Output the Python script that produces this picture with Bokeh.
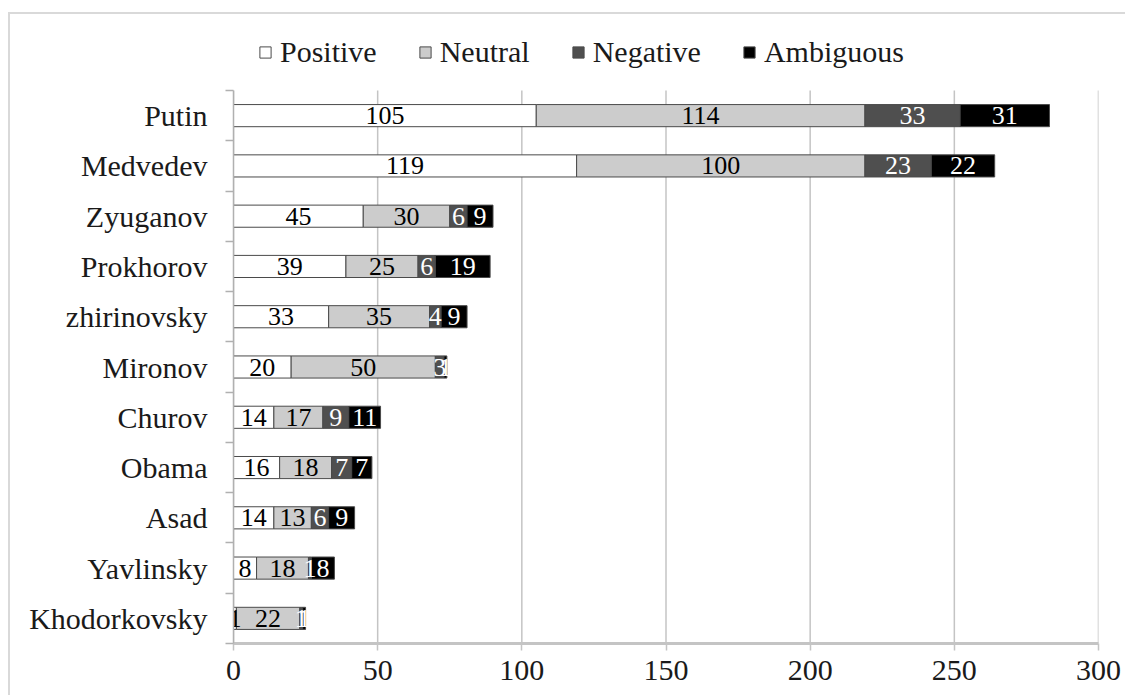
from bokeh.plotting import figure
from bokeh.models import (ColumnDataSource, Range1d, FixedTicker, Legend, LegendItem)
from bokeh.core.properties import value
from bokeh.embed import file_html
from bokeh.resources import INLINE

# ---- data (top to bottom as drawn) ----
names = ["Putin", "Medvedev", "Zyuganov", "Prokhorov", "zhirinovsky", "Mironov",
         "Churov", "Obama", "Asad", "Yavlinsky", "Khodorkovsky"]
positive = [105, 119, 45, 39, 33, 20, 14, 16, 14, 8, 1]
neutral = [114, 100, 30, 25, 35, 50, 17, 18, 13, 18, 22]
negative = [33, 23, 6, 6, 4, 3, 9, 7, 6, 1, 1]
ambiguous = [31, 22, 9, 19, 9, 1, 11, 7, 9, 8, 1]
series = ["Positive", "Neutral", "Negative", "Ambiguous"]
x_ticks = [0, 50, 100, 150, 200, 250, 300]

colors = ["#ffffff", "#cccccc", "#4f4f4f", "#000000"]
label_colors = ["#000000", "#000000", "#ffffff", "#ffffff"]
SERIF = "Liberation Serif"

n = len(names)
ypos = [n - i - 0.5 for i in range(n)]
data = {"y": ypos, "Positive": positive, "Neutral": neutral,
        "Negative": negative, "Ambiguous": ambiguous}
source = ColumnDataSource(data)

# layout in pixels: bar area is 553 px tall, with 66 px of room above it for the legend
BAR_AREA_PX = 553
LEGEND_ROOM_PX = 66
y_top = n + LEGEND_ROOM_PX / (BAR_AREA_PX / n)

p = figure(width=1117, height=683,
           x_range=Range1d(0, 300), y_range=Range1d(0, y_top),
           output_backend="svg", toolbar_location=None,
           min_border_left=223, min_border_top=10, min_border_bottom=54,
           min_border_right=29)
p.margin = (12, 0, 0, 8)
p.styles = {"border-top": "2px solid #d9d9d9", "border-left": "2px solid #d9d9d9"}
p.outline_line_color = None
p.background_fill_color = "white"
p.border_fill_color = "white"

# vertical grid lines limited to the bar area
p.xgrid.grid_line_color = None
p.ygrid.grid_line_color = None
p.segment(x0=x_ticks, y0=[0] * len(x_ticks), x1=x_ticks, y1=[n] * len(x_ticks),
          line_color="#c4c4c4", line_width=1.5)

renderers = p.hbar_stack(series, y="y", height=0.44, source=source,
                         fill_color=colors, line_color="#4a4a4a", line_width=1)

# value labels
lx, ly, lt, lc = [], [], [], []
vals = [positive, neutral, negative, ambiguous]
for i in range(n):
    left = 0
    for k, s in enumerate(vals):
        v = s[i]
        lx.append(left + v / 2)
        ly.append(ypos[i])
        lt.append(str(v))
        lc.append(label_colors[k])
        left += v
lab_src = ColumnDataSource(dict(x=lx, y=ly, t=lt, c=lc))
p.text(x="x", y="y", text="t", source=lab_src, text_color="c",
       text_font=value(SERIF), text_font_size="26px",
       text_align="center", text_baseline="middle")

# x axis
p.xaxis.ticker = FixedTicker(ticks=x_ticks)
p.xaxis.axis_line_color = "#c4c4c4"
p.xaxis.axis_line_width = 3
p.xaxis.major_tick_line_color = "#c4c4c4"
p.xaxis.major_tick_line_width = 1.5
p.xaxis.major_tick_out = 7
p.xaxis.major_tick_in = 0
p.xaxis.minor_tick_line_color = None
p.xaxis.major_label_standoff = 10
p.xaxis.major_label_text_font = SERIF
p.xaxis.major_label_text_font_size = "30px"
p.xaxis.major_label_text_color = "#1a1a1a"

# y axis
p.yaxis.bounds = (0, n)
p.yaxis.ticker = FixedTicker(ticks=ypos, minor_ticks=list(range(n + 1)))
p.yaxis.major_label_overrides = {y: nm for y, nm in zip(ypos, names)}
p.yaxis.axis_line_color = "#b0b0b0"
p.yaxis.axis_line_width = 1.5
p.yaxis.major_tick_line_color = None
p.yaxis.major_tick_out = 0
p.yaxis.major_tick_in = 0
p.yaxis.minor_tick_line_color = "#b0b0b0"
p.yaxis.minor_tick_line_width = 1.5
p.yaxis.minor_tick_out = 8
p.yaxis.minor_tick_in = 0
p.yaxis.major_label_standoff = 18
p.yaxis.major_label_text_font = SERIF
p.yaxis.major_label_text_font_size = "30px"
p.yaxis.major_label_text_color = "#1a1a1a"

# legend (inside the frame, in the room above the bars)
items = [LegendItem(label=s, renderers=[r]) for s, r in zip(series, renderers)]
legend = Legend(items=items, orientation="horizontal", location=(25, 574),
                label_text_font=SERIF, label_text_font_size="30px",
                label_text_color="#1a1a1a", glyph_width=14, glyph_height=14,
                label_standoff=8, spacing=41, padding=0, margin=0,
                border_line_color=None, background_fill_alpha=0)
p.add_layout(legend)

open("out.html", "w").write(file_html(p, INLINE))
